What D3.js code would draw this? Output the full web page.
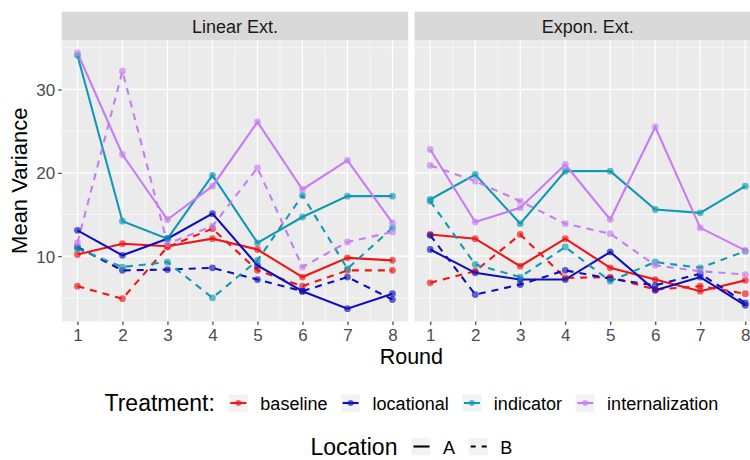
<!DOCTYPE html>
<html><head><meta charset="utf-8">
<script src="https://cdn.jsdelivr.net/npm/d3@7/dist/d3.min.js"></script>
<style>body{margin:0;background:#fff}svg{display:block}</style>
</head><body><svg id="c" width="750" height="460"></svg>
<script>
const rounds = [1,2,3,4,5,6,7,8];
const panels = ["Linear Ext.", "Expon. Ext."];
const treatments = ["baseline","locational","indicator","internalization"];
const locations = ["A","B"];
const yTicks = [10,20,30];

// Linear Ext.
const linBaselineA = [10.2, 11.5, 11.2, 12.1, 10.8, 7.5, 9.8, 9.5];
const linBaselineB = [6.4, 4.9, 11.1, 13.3, 8.3, 6.4, 8.3, 8.3];
const linLocationalA = [13.1, 10.1, 12.1, 15.1, 8.9, 5.8, 3.7, 5.5];
const linLocationalB = [11.1, 8.3, 8.4, 8.6, 7.2, 5.8, 7.5, 4.8];
const linIndicatorA = [34.1, 14.2, 12.1, 19.7, 11.6, 14.7, 17.2, 17.2];
const linIndicatorB = [10.9, 8.7, 9.3, 5.0, 9.5, 17.3, 8.5, 13.4];
const linInternalA = [34.4, 22.2, 14.4, 18.4, 26.1, 18.0, 21.5, 14.0];
const linInternalB = [11.6, 32.2, 11.5, 13.6, 20.6, 8.7, 11.7, 12.9];
// Expon. Ext.
const expBaselineA = [12.6, 12.1, 8.8, 12.1, 8.6, 7.2, 5.8, 7.1];
const expBaselineB = [6.8, 8.2, 12.6, 7.4, 7.5, 6.0, 6.4, 5.5];
const expLocationalA = [10.8, 8.0, 7.2, 7.2, 10.5, 5.9, 7.5, 4.1];
const expLocationalB = [12.5, 5.4, 6.6, 8.3, 7.3, 6.5, 7.9, 4.4];
const expIndicatorA = [16.8, 19.8, 13.9, 20.2, 20.2, 15.6, 15.2, 18.4];
const expIndicatorB = [16.6, 9.0, 7.5, 11.1, 7.0, 9.3, 8.6, 10.6];
const expInternalA = [22.8, 14.1, 15.8, 21.0, 14.4, 25.5, 13.4, 10.7];
const expInternalB = [20.9, 19.0, 16.6, 13.9, 12.7, 8.9, 8.2, 7.8];

const seriesData = {
  "Linear Ext.": {
    baseline: {A: linBaselineA, B: linBaselineB},
    locational: {A: linLocationalA, B: linLocationalB},
    indicator: {A: linIndicatorA, B: linIndicatorB},
    internalization: {A: linInternalA, B: linInternalB}
  },
  "Expon. Ext.": {
    baseline: {A: expBaselineA, B: expBaselineB},
    locational: {A: expLocationalA, B: expLocationalB},
    indicator: {A: expIndicatorA, B: expIndicatorB},
    internalization: {A: expInternalA, B: expInternalB}
  }
};

const colors = {baseline:"#f01414", locational:"#1010bb", indicator:"#1198b4", internalization:"#c77cf2"};
const dash = {A:null, B:"7,6"};
const FONT = "'Liberation Sans', Arial, Helvetica, sans-serif";

const svg = d3.select("#c");
svg.append("rect").attr("width",750).attr("height",460).attr("fill","#fff");

const panelLeft = 61.7, panelW = 346.5, panelGap = 6.3;
const panelTop = 40, panelBottom = 321.5, stripTop = 11.7;

const all = [];
panels.forEach(p => treatments.forEach(t => locations.forEach(l => all.push(...seriesData[p][t][l]))));
const [mn, mx] = d3.extent(all);
const pad = (mx - mn) * 0.05;
const y = d3.scaleLinear().domain([mn - pad, mx + pad]).range([panelBottom, panelTop]);
const yMinor = [5,15,25,35].filter(v => v > mn - pad && v < mx + pad);

panels.forEach((p, i) => {
  const x0 = panelLeft + i * (panelW + panelGap);
  const x = d3.scaleLinear().domain([1 - 0.35, 8 + 0.35]).range([x0, x0 + panelW]);
  const g = svg.append("g");
  g.append("rect").attr("x", x0).attr("y", stripTop).attr("width", panelW).attr("height", panelTop - stripTop).attr("fill", "#d9d9d9");
  g.append("text").attr("x", x0 + panelW/2).attr("y", 33.3).attr("text-anchor","middle")
    .attr("font-family", FONT).attr("font-size", 18).attr("fill","#1a1a1a").text(p);
  g.append("rect").attr("x", x0).attr("y", panelTop).attr("width", panelW).attr("height", panelBottom - panelTop).attr("fill","#ebebeb");
  yMinor.forEach(v => g.append("line").attr("x1", x0).attr("x2", x0+panelW).attr("y1", y(v)).attr("y2", y(v)).attr("stroke","#fff").attr("stroke-width",0.6));
  rounds.slice(0,-1).forEach(r => g.append("line").attr("x1", x(r+0.5)).attr("x2", x(r+0.5)).attr("y1", panelTop).attr("y2", panelBottom).attr("stroke","#fff").attr("stroke-width",0.6));
  yTicks.forEach(v => g.append("line").attr("x1", x0).attr("x2", x0+panelW).attr("y1", y(v)).attr("y2", y(v)).attr("stroke","#fff").attr("stroke-width",1.2));
  rounds.forEach(r => g.append("line").attr("x1", x(r)).attr("x2", x(r)).attr("y1", panelTop).attr("y2", panelBottom).attr("stroke","#fff").attr("stroke-width",1.2));

  const xa = g.append("g").attr("transform", `translate(0,${panelBottom})`)
    .call(d3.axisBottom(x).tickValues(rounds).tickSize(3.5).tickPadding(4).tickFormat(d3.format("d")));
  xa.select(".domain").remove();
  xa.selectAll("line").attr("stroke","#333").attr("stroke-width",1.1);
  xa.selectAll("text").attr("font-family", FONT).attr("font-size", 17).attr("fill","#4d4d4d");

  if (i === 0) {
    const ya = g.append("g").attr("transform", `translate(${x0},0)`)
      .call(d3.axisLeft(y).tickValues(yTicks).tickSize(3.5).tickPadding(3));
    ya.select(".domain").remove();
    ya.selectAll("line").attr("stroke","#333").attr("stroke-width",1.1);
    ya.selectAll("text").attr("font-family", FONT).attr("font-size", 17).attr("fill","#4d4d4d").attr("dy","0.36em");
  }

  const line = d3.line().x((d, k) => x(rounds[k])).y(d => y(d));
  treatments.forEach(t => locations.forEach(l => {
    g.append("path").datum(seriesData[p][t][l]).attr("d", line).attr("fill","none")
      .attr("stroke", colors[t]).attr("stroke-width", 2.1).attr("stroke-dasharray", dash[l]);
  }));
  treatments.forEach(t => locations.forEach(l => {
    g.selectAll(null).data(seriesData[p][t][l]).enter().append("circle")
      .attr("cx", (d,k) => x(rounds[k])).attr("cy", d => y(d)).attr("r", 3.4)
      .attr("fill", colors[t]).attr("fill-opacity", 0.65);
  }));
});

const plotCenter = panelLeft + (2*panelW + panelGap)/2;
svg.append("text").attr("x", plotCenter).attr("y", 364).attr("text-anchor","middle")
  .attr("font-family", FONT).attr("font-size", 21.5).attr("fill","#000").text("Round");
svg.append("text").attr("transform", `translate(27,${(panelTop+panelBottom)/2}) rotate(-90)`).attr("text-anchor","middle")
  .attr("font-family", FONT).attr("font-size", 22).attr("fill","#000").text("Mean Variance");

function legendRow(title, items, cy, titleBase, labelBase, drawKey) {
  const g = svg.append("g");
  const tt = g.append("text").attr("y", titleBase).attr("font-family", FONT).attr("font-size", 23).attr("fill","#000").text(title);
  const tw = tt.node().getComputedTextLength();
  let cx = tw + 14;
  items.forEach(it => {
    const kx = cx;
    const kg = g.append("g");
    kg.append("rect").attr("x", kx).attr("y", cy - 8.7).attr("width", 19).attr("height", 17.4).attr("fill","#f2f2f2");
    drawKey(kg, kx, cy, it);
    const lt = g.append("text").attr("x", kx + 31.5).attr("y", labelBase).attr("font-family", FONT).attr("font-size", 18).attr("fill","#000").text(it);
    const lw = lt.node().getComputedTextLength();
    cx = kx + 31.5 + lw + 13.7;
  });
  const total = cx - 13.7;
  g.attr("transform", `translate(${plotCenter - total/2},0)`);
}
legendRow("Treatment:", treatments, 403, 411, 409.5, (kg, kx, cy, t) => {
  kg.append("line").attr("x1", kx+1.5).attr("x2", kx+17.5).attr("y1", cy).attr("y2", cy).attr("stroke", colors[t]).attr("stroke-width", 2.1);
  kg.append("circle").attr("cx", kx+9.5).attr("cy", cy).attr("r", 3).attr("fill", colors[t]).attr("fill-opacity", 0.65);
});
legendRow("Location", locations, 446.5, 455, 453.5, (kg, kx, cy, l) => {
  kg.append("line").attr("x1", kx+2).attr("x2", kx+18).attr("y1", cy).attr("y2", cy).attr("stroke", "#000").attr("stroke-width", 2.1)
    .attr("stroke-dasharray", l === "B" ? "5,6" : null);
});
</script></body></html>
